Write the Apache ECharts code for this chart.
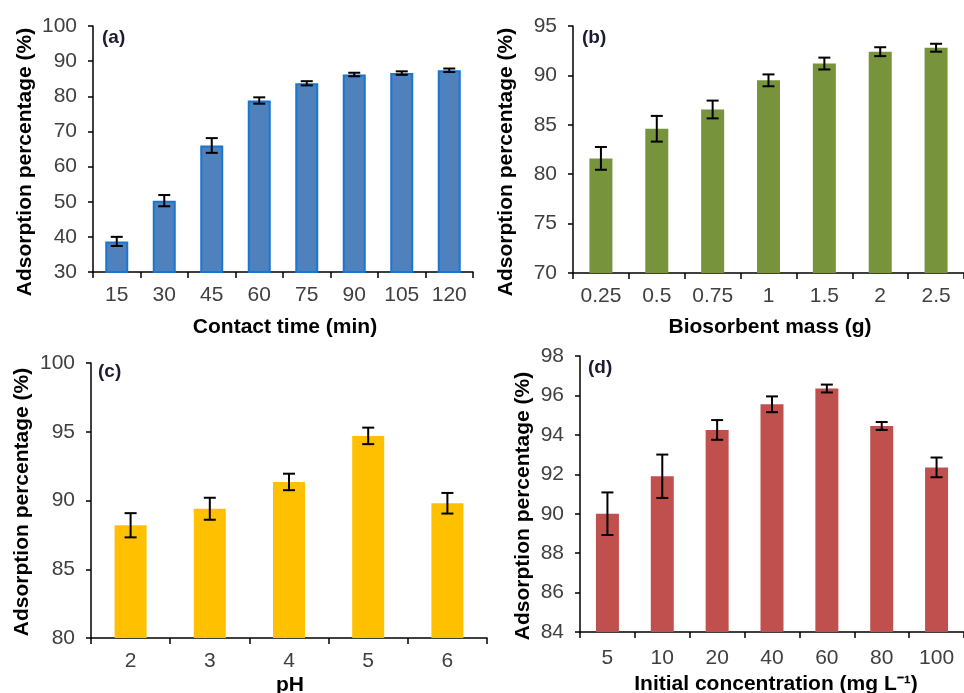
<!DOCTYPE html>
<html>
<head>
<meta charset="utf-8">
<script src="https://cdn.jsdelivr.net/npm/echarts@6/dist/echarts.min.js"></script>
<style>
html,body{margin:0;padding:0;background:#fff;}
#main{width:964px;height:693px;}
</style>
</head>
<body>
<div id="main"></div>
<script>
// ---- data ----
const timeCats = ['15','30','45','60','75','90','105','120'];
const timeVals = [38.7, 50.3, 66.0, 78.8, 83.7, 86.2, 86.6, 87.4];
const timeErr  = [1.3, 1.6, 2.1, 0.9, 0.6, 0.5, 0.5, 0.5];

const massCats = ['0.25','0.5','0.75','1','1.5','2','2.5'];
const massVals = [81.6, 84.6, 86.55, 89.5, 91.2, 92.4, 92.8];
const massErr  = [1.15, 1.3, 0.9, 0.6, 0.6, 0.45, 0.4];

const phCats = ['2','3','4','5','6'];
const phVals = [88.2, 89.4, 91.35, 94.7, 89.8];
const phErr  = [0.88, 0.8, 0.6, 0.6, 0.75];

const concCats = ['5','10','20','40','60','80','100'];
const concVals = [90.0, 91.9, 94.25, 95.55, 96.35, 94.45, 92.35];
const concErr  = [1.08, 1.1, 0.5, 0.4, 0.2, 0.2, 0.5];

const yTitle = 'Adsorption percentage (%)';
const xTitles = ['Contact time (min)', 'Biosorbent mass (g)', 'pH', 'Initial concentration (mg L\u207B\u00B9)'];
const panelLabels = ['(a)', '(b)', '(c)', '(d)'];

// ---- chart ----
const FONT = "'Liberation Sans', Arial, sans-serif";
const chart = echarts.init(document.getElementById('main'), null, {renderer: 'canvas'});

function errData(vals, errs) {
  return vals.map((v, i) => [i, v - errs[i], v + errs[i]]);
}

function errSeries(idx, vals, errs) {
  return {
    type: 'custom',
    xAxisIndex: idx, yAxisIndex: idx,
    data: errData(vals, errs),
    encode: {x: 0, y: [1, 2]},
    z: 5,
    clip: false,
    silent: true,
    renderItem: function (params, api) {
      const c = api.value(0);
      const lo = api.coord([c, api.value(1)]);
      const hi = api.coord([c, api.value(2)]);
      const hw = 6;
      const st = {stroke: '#000', lineWidth: 2};
      return {
        type: 'group',
        children: [
          {type: 'line', shape: {x1: lo[0], y1: lo[1], x2: hi[0], y2: hi[1]}, style: st},
          {type: 'line', shape: {x1: lo[0] - hw, y1: lo[1], x2: lo[0] + hw, y2: lo[1]}, style: st},
          {type: 'line', shape: {x1: hi[0] - hw, y1: hi[1], x2: hi[0] + hw, y2: hi[1]}, style: st}
        ]
      };
    }
  };
}

const grids = [
  {left: 93, top: 26, width: 380, height: 246},
  {left: 573, top: 26, width: 393, height: 247},
  {left: 91, top: 363, width: 396, height: 275},
  {left: 580, top: 356, width: 394, height: 276}
];

const cats = [timeCats, massCats, phCats, concCats];
const yRanges = [[30, 100, 10], [70, 95, 5], [80, 100, 5], [84, 98, 2]];
const xMargins = [13, 13, 13, 16];

const xAxes = cats.map((c, i) => ({
  type: 'category',
  gridIndex: i,
  data: c,
  boundaryGap: true,
  axisLine: {show: true, lineStyle: {color: '#000', width: 1.5}},
  axisTick: {show: true, alignWithLabel: false, length: 6, lineStyle: {color: '#000', width: 1.5}},
  axisLabel: {color: '#404040', fontSize: 21, fontFamily: FONT, margin: xMargins[i], interval: 0},
  splitLine: {show: false}
}));

const yAxes = yRanges.map((r, i) => ({
  type: 'value',
  gridIndex: i,
  min: r[0], max: r[1], interval: r[2],
  axisLine: {show: true, lineStyle: {color: '#000', width: 1.5}},
  axisTick: {show: true, length: 5, lineStyle: {color: '#000', width: 1.5}},
  axisLabel: {color: '#404040', fontSize: 21, fontFamily: FONT, margin: 16},
  splitLine: {show: false}
}));

const barColors = ['#4F81BD', '#77933C', '#FFC000', '#C0504D'];
const barWidths = [23, 23, 32, 23];
const valsAll = [timeVals, massVals, phVals, concVals];
const errsAll = [timeErr, massErr, phErr, concErr];

const series = [];
valsAll.forEach((v, i) => {
  series.push({
    type: 'bar',
    xAxisIndex: i, yAxisIndex: i,
    data: v,
    barWidth: barWidths[i],
    itemStyle: i === 0
      ? {color: '#4F81BD', borderColor: '#1A75CF', borderWidth: 2}
      : {color: barColors[i]},
    silent: true
  });
  series.push(errSeries(i, v, errsAll[i]));
});

// titles
const yTitlePos = [[25, 162], [506, 162], [22, 502], [523, 506]];
const xTitlePos = [[285, 327], [770, 327], [290, 685], [776, 684]];
const labelPos = [[102, 38], [582, 38], [98, 372], [588, 368]];

const graphic = [];
yTitlePos.forEach(p => graphic.push({
  type: 'text', x: p[0], y: p[1], rotation: Math.PI / 2,
  style: {text: yTitle, font: 'bold 21px ' + FONT, fill: '#000', align: 'center', verticalAlign: 'middle'}
}));
xTitlePos.forEach((p, i) => graphic.push({
  type: 'text', x: p[0], y: p[1],
  style: {text: xTitles[i], font: 'bold 21px ' + FONT, fill: '#000', align: 'center', verticalAlign: 'middle'}
}));
labelPos.forEach((p, i) => graphic.push({
  type: 'text', x: p[0], y: p[1],
  style: {text: panelLabels[i], font: 'bold 19px ' + FONT, fill: '#1b1b33', align: 'left', verticalAlign: 'middle'}
}));

chart.setOption({
  backgroundColor: '#fff',
  animation: false,
  grid: grids,
  xAxis: xAxes,
  yAxis: yAxes,
  series: series,
  graphic: graphic
});
</script>
</body>
</html>
